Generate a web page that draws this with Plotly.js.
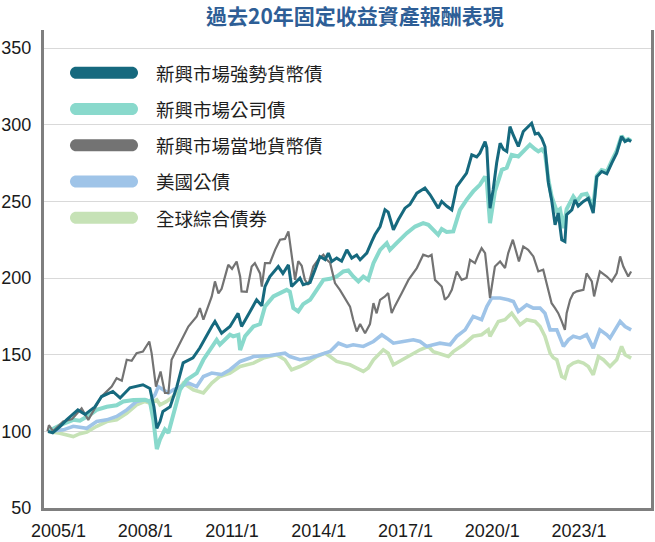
<!DOCTYPE html>
<html>
<head>
<meta charset="utf-8">
<script src="https://cdn.plot.ly/plotly-3.0.1.min.js"></script>
<style>
html,body{margin:0;padding:0;background:#fff;}
#chart{width:655px;height:542px;}
</style>
</head>
<body>
<div id="chart"></div>
<script>
// Chart title and series names (legend order)
const chartTitle = "過去20年固定收益資產報酬表現";
const seriesNames = ["新興市場強勢貨幣債", "新興市場公司債", "新興市場當地貨幣債", "美國公債", "全球綜合債券"];
const tickYears = [2005, 2008, 2011, 2014, 2017, 2020, 2023];
const tickLabels = ["2005/1", "2008/1", "2011/1", "2014/1", "2017/1", "2020/1", "2023/1"];

// 新興市場強勢貨幣債 (time in decimal years, index value)
const t_hc = [2004.64,2004.80,2005.05,2005.28,2005.67,2005.92,2006.26,2006.49,2006.88,2007.13,2007.47,2007.92,2008.16,2008.30,2008.40,2008.51,2008.61,2008.86,2009.09,2009.31,2009.65,2009.89,2010.30,2010.41,2010.64,2010.93,2011.21,2011.33,2011.62,2011.85,2012.03,2012.14,2012.31,2012.60,2012.76,2012.95,2013.06,2013.24,2013.35,2013.46,2013.70,2013.87,2014.04,2014.22,2014.33,2014.45,2014.62,2014.79,2014.97,2015.14,2015.31,2015.43,2015.66,2015.83,2015.94,2016.12,2016.29,2016.40,2016.58,2016.75,2016.98,2017.15,2017.39,2017.67,2017.85,2018.13,2018.25,2018.42,2018.60,2018.77,2018.94,2019.11,2019.29,2019.46,2019.57,2019.75,2019.81,2019.92,2020.03,2020.15,2020.27,2020.38,2020.50,2020.61,2020.73,2020.90,2021.07,2021.36,2021.48,2021.59,2021.71,2021.82,2021.94,2022.05,2022.17,2022.28,2022.40,2022.51,2022.57,2022.75,2022.86,2022.97,2023.15,2023.32,2023.49,2023.61,2023.78,2023.96,2024.13,2024.30,2024.47,2024.59,2024.70,2024.80];
const v_hc = [100,99,103,107.5,114,111,116,122.7,126,121.8,128.4,130.4,128,116,102,106.4,113,116,129,144.7,148,154.5,168.4,171.7,164,168.4,177,168.4,178,185.8,182,194.5,201,207.5,203,208.6,194.5,197.8,200,195.6,197,205.4,214,212,216.3,210.8,213,211,218.4,213,215,211.9,216.3,223.8,228.2,233.6,244.5,243,231.5,238,245.6,248,255.4,258.7,254.3,245.6,250,247,244.5,259.7,264,268.4,280.4,279,281.5,289,285,245.6,257.6,275,288,284,282.6,298.8,293,285.8,295.6,301,294,294.5,291,285.8,262,251,234.7,242.4,225,223.8,241.3,244.5,251,247,250,252,242.4,266,269.5,268,275,281.5,292.3,289,290.2,289];

// 新興市場公司債
const t_corp = [2004.64,2005.05,2005.51,2005.74,2006.09,2006.32,2006.67,2007.01,2007.24,2007.59,2007.99,2008.16,2008.28,2008.40,2008.51,2008.68,2008.80,2008.97,2009.20,2009.43,2009.78,2010.01,2010.24,2010.47,2010.58,2010.93,2011.04,2011.22,2011.28,2011.45,2011.74,2011.97,2012.14,2012.43,2012.89,2013.00,2013.12,2013.29,2013.46,2013.70,2013.93,2014.16,2014.39,2014.62,2014.85,2015.02,2015.19,2015.37,2015.54,2015.71,2015.89,2016.12,2016.35,2016.46,2016.69,2017.04,2017.33,2017.61,2017.79,2017.96,2018.13,2018.25,2018.42,2018.65,2018.77,2018.88,2019.11,2019.34,2019.57,2019.75,2019.81,2019.92,2020.09,2020.33,2020.50,2020.67,2020.90,2021.07,2021.30,2021.48,2021.59,2021.71,2021.82,2021.94,2022.05,2022.23,2022.34,2022.46,2022.57,2022.80,2022.92,2023.09,2023.26,2023.49,2023.61,2023.78,2023.96,2024.13,2024.30,2024.47,2024.59,2024.70,2024.80];
const v_corp = [100,104,107.5,107,110.8,114,116,117,119.5,120.5,120.6,119.5,107.5,88.4,94.8,101.3,99,111.8,127,133.6,138,146.7,153,159.7,156.5,163,162,163,153,162,168.4,170,181.4,188,192.3,191,180.4,178.2,183,185.8,192.3,198.8,199.5,201,204.3,205,201,197.8,201,198.8,209.7,218.4,222.8,218.4,222.8,229.3,233.6,235.8,234.7,231.5,228.2,232,230,230.4,238,244.5,251,256.5,260.8,266.2,263,235.8,256.5,270.6,272,280.4,279.3,282.6,287,284,282.6,284,281.5,264,253.2,243.4,245,232.6,245,253.2,250,254.3,255,246.7,266.5,270.5,269.5,276.5,283,292.8,289.5,290.7,289.5];

// 新興市場當地貨幣債
const t_local = [2004.62,2004.67,2004.81,2005.16,2005.47,2005.80,2006.03,2006.26,2006.49,2006.84,2007.01,2007.19,2007.36,2007.53,2007.70,2007.92,2008.14,2008.22,2008.37,2008.53,2008.68,2008.80,2008.91,2009.14,2009.49,2009.78,2009.89,2010.01,2010.30,2010.41,2010.53,2010.64,2010.87,2011.00,2011.16,2011.28,2011.33,2011.51,2011.68,2011.79,2011.97,2012.03,2012.14,2012.31,2012.49,2012.66,2012.83,2012.95,2013.06,2013.18,2013.29,2013.41,2013.52,2013.64,2013.81,2013.98,2014.16,2014.27,2014.39,2014.56,2014.73,2014.91,2015.08,2015.19,2015.31,2015.43,2015.60,2015.77,2015.89,2016.00,2016.12,2016.29,2016.40,2016.52,2016.64,2016.87,2017.10,2017.39,2017.61,2017.79,2017.90,2018.02,2018.13,2018.25,2018.36,2018.48,2018.60,2018.77,2018.94,2019.11,2019.23,2019.40,2019.52,2019.63,2019.75,2019.92,2020.09,2020.27,2020.44,2020.55,2020.71,2020.84,2020.92,2021.07,2021.24,2021.42,2021.59,2021.76,2021.94,2022.05,2022.17,2022.28,2022.40,2022.51,2022.57,2022.69,2022.80,2022.92,2023.15,2023.26,2023.44,2023.52,2023.61,2023.72,2023.96,2024.13,2024.30,2024.42,2024.53,2024.70,2024.80];
const v_local = [100,104,100,106.4,108,115,107.5,115,122.7,129.2,134.7,133,146.7,146,151,152,158.6,151,129.2,139,125,125,146.7,155.4,168.4,175,180.4,172.8,188,197.8,190,193,208.6,206,210.8,201,191.3,191,207.5,209.7,203,194.5,209.7,209.7,218.4,225,225.5,230.4,216.3,198.8,211,208,198.8,195.6,207.5,212,215.2,212,210,196.7,192.3,186.5,181.4,172.8,165.1,170,164,170,183.6,177,185.8,188,190.2,177.1,182,190.2,198.8,206.5,215.2,214,215.2,198.8,196.7,194.5,185.8,188,192.3,204.3,198.8,200,211.9,209.7,215.2,219.5,216.3,187,207.5,210.8,206.5,216.3,225,216.3,210.8,220.6,218.4,214.1,204.3,205.4,192.3,183.6,180.4,177.1,171.7,166.2,177,185.8,190,191.3,192.3,203,197.8,188,195.6,204.3,201,197.8,203,214.1,207.5,201,204.3];

// 美國公債
const t_ust = [2004.64,2005.17,2005.51,2005.98,2006.32,2006.67,2007.01,2007.36,2007.70,2007.99,2008.16,2008.34,2008.45,2008.62,2008.80,2008.97,2009.20,2009.49,2009.78,2010.01,2010.30,2010.64,2010.93,2011.28,2011.62,2011.74,2012.31,2012.83,2013.00,2013.35,2013.70,2014.04,2014.39,2014.68,2014.97,2015.19,2015.54,2015.89,2016.18,2016.35,2016.58,2016.92,2017.27,2017.50,2017.73,2017.96,2018.19,2018.54,2018.77,2019.06,2019.34,2019.63,2019.81,2019.98,2020.27,2020.55,2020.73,2020.90,2021.19,2021.42,2021.65,2021.82,2022.00,2022.23,2022.46,2022.63,2022.80,2023.03,2023.26,2023.49,2023.72,2023.96,2024.07,2024.42,2024.59,2024.80];
const v_ust = [100,101,103.3,102,106.4,107.5,109.7,114,119.5,120.6,119.5,124,129.2,127,125,127.1,129.2,131.5,129.2,135.8,138,137,140.2,145.6,147.8,148.8,149.5,151,148.8,146.7,147.8,150,152.1,157.5,155.4,156.5,155.4,158.6,163,160.8,157.5,158.6,159.7,158.6,155.4,156.5,157.5,156.5,162,166.2,175,172.8,181.4,187,187,185.8,184.7,178.2,182.5,180.4,180.4,177,166.2,166.2,155.4,159.7,162,160.8,163,154.3,166.2,163,160.8,171.7,168.4,166.2];

// 全球綜合債券
const t_agg = [2004.64,2005.05,2005.51,2005.74,2005.98,2006.32,2006.67,2007.01,2007.36,2007.70,2007.99,2008.16,2008.40,2008.51,2008.74,2008.97,2009.32,2009.66,2010.01,2010.30,2010.58,2010.93,2011.28,2011.74,2012.08,2012.54,2012.83,2013.06,2013.35,2013.58,2013.93,2014.22,2014.39,2014.62,2014.85,2015.08,2015.31,2015.54,2015.71,2015.89,2016.23,2016.40,2016.58,2016.87,2017.15,2017.50,2017.79,2017.96,2018.13,2018.48,2018.65,2019.00,2019.34,2019.63,2019.86,2019.92,2020.21,2020.44,2020.67,2020.84,2020.96,2021.19,2021.48,2021.65,2021.82,2022.00,2022.11,2022.23,2022.40,2022.51,2022.63,2022.80,2022.97,2023.15,2023.32,2023.49,2023.67,2023.84,2024.07,2024.30,2024.47,2024.59,2024.80];
const v_agg = [100,98.8,96.6,98.5,99.5,103.3,106.4,107.5,111.8,117.3,119.5,118.5,120.6,117.3,119.5,122.7,131.5,127.1,125,131.5,135.8,138,142.3,144.5,147.8,150,146.7,140.2,142.3,144.5,148.8,151,148.8,145.6,144.5,143.4,141.3,139.1,141.3,146.7,153.2,151,143.4,146.7,149.9,153.2,155.4,152,151,148.8,152,156.5,162,163,166.2,162,171.7,172.8,177.1,172.8,169.5,172.8,171.7,168.4,162,151,148,146.7,135.8,134.7,142.3,144.5,145.6,144.5,142.3,136.9,148.8,146.7,142.3,146.7,155.4,150,147.8];

// styles
const colors = ["#16697e", "#89d9cc", "#737373", "#9fc4e8", "#c6e2b6"];
const widths = [3, 4, 2.2, 3.6, 3.6];
const tArr = [t_hc, t_corp, t_local, t_ust, t_agg];
const vArr = [v_hc, v_corp, v_local, v_ust, v_agg];
const drawOrder = [4, 3, 1, 2, 0];

const traces = drawOrder.map(i => ({
  type: "scatter", mode: "lines", name: seriesNames[i],
  x: tArr[i], y: vArr[i],
  line: {color: colors[i], width: widths[i], shape: "linear"},
  showlegend: false, hoverinfo: "skip"
}));

// custom legend (rounded thick bars + text)
const M = {l: 44, r: 4, t: 30, b: 34};
const W = 655, H = 542;
const pw = W - M.l - M.r, ph = H - M.t - M.b;
const legTop = 72.7, legStep = 36.25;
const shapes = [], annotations = [];
const bar = "M-28,-6 L28,-6 C31.3,-6 34,-3.3 34,0 C34,3.3 31.3,6 28,6 L-28,6 C-31.3,6 -34,3.3 -34,0 C-34,-3.3 -31.3,-6 -28,-6 Z";
seriesNames.forEach((nm, i) => {
  const yc = legTop + i * legStep;
  const py = (H - M.b - yc) / ph;
  shapes.push({type: "path", xref: "paper", yref: "paper", xsizemode: "pixel", ysizemode: "pixel",
    xanchor: (104 - M.l) / pw, yanchor: py, path: bar,
    fillcolor: colors[i], line: {width: 0}, layer: "above"});
  annotations.push({xref: "paper", yref: "paper", x: (154 - M.l) / pw, y: py, xanchor: "left", yanchor: "middle",
    text: nm, showarrow: false, font: {family: "Noto Sans CJK TC, sans-serif", size: 18.5, color: "#1e1e1e"}});
});
// title as annotation placed in the top margin
annotations.push({xref: "paper", yref: "paper", x: (355 - M.l) / pw, y: (H - M.b - 15) / ph,
  xanchor: "center", yanchor: "middle", showarrow: false, text: "<b>" + chartTitle + "</b>",
  font: {family: "Noto Sans CJK TC, sans-serif", size: 21, color: "#2e5e96"}});

const layout = {
  width: W, height: H,
  margin: M,
  paper_bgcolor: "#ffffff", plot_bgcolor: "#ffffff",
  xaxis: {
    range: [2004.499, 2025.487], tickmode: "array", tickvals: tickYears, ticktext: tickLabels,
    showgrid: false, zeroline: false, showline: true, linecolor: "#7f7f7f", linewidth: 3,
    ticks: "", ticklabelstandoff: 4,
    tickfont: {family: "Liberation Sans, Arial, sans-serif", size: 18, color: "#1a1a1a"}
  },
  yaxis: {
    range: [50, 361.8], tickmode: "array", tickvals: [50, 100, 150, 200, 250, 300, 350],
    showgrid: true, gridcolor: "#d9d9d9", gridwidth: 1, zeroline: false,
    showline: true, mirror: true, linecolor: "#7f7f7f", linewidth: 3,
    ticks: "", ticklabelstandoff: 6,
    tickfont: {family: "Liberation Sans, Arial, sans-serif", size: 18, color: "#1a1a1a"}
  },
  shapes: shapes, annotations: annotations
};

Plotly.newPlot("chart", traces, layout, {displayModeBar: false, staticPlot: true});
</script>
</body>
</html>
